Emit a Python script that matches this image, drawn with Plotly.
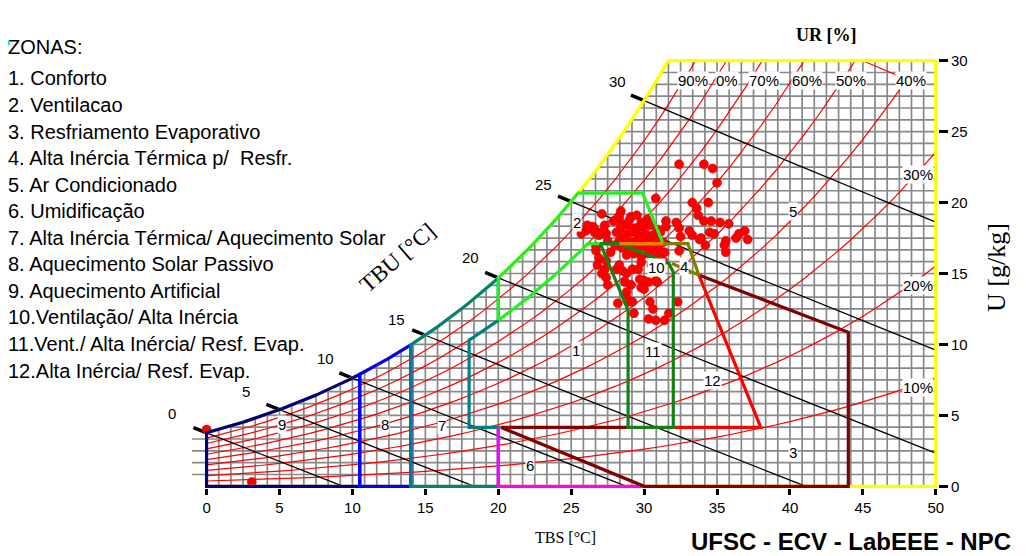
import numpy as np
import plotly.graph_objects as go

# ---------------- data ----------------
x_ticks = [0, 5, 10, 15, 20, 25, 30, 35, 40, 45, 50]
y_ticks = [0, 5, 10, 15, 20, 25, 30]
rh_levels = [10, 20, 30, 40, 50, 60, 70, 80, 90]
wb_levels = [0, 5, 10, 15, 20, 25, 30]
wb_labels = ["0", "5", "10", "15", "20", "25", "30"]
rh_top_labels = ["90%", "0%", "70%", "60%", "50%", "40%"]
rh_side_labels = ["30%", "20%", "10%"]
grid_step = 5.0 / 6.0

zone_title = "ZONAS:"
zone_names = [
    "1. Conforto",
    "2. Ventilacao",
    "3. Resfriamento Evaporativo",
    "4. Alta Inércia Térmica p/  Resfr.",
    "5. Ar Condicionado",
    "6. Umidificação",
    "7. Alta Inércia Térmica/ Aquecimento Solar",
    "8. Aquecimento Solar Passivo",
    "9. Aquecimento Artificial",
    "10.Ventilação/ Alta Inércia",
    "11.Vent./ Alta Inércia/ Resf. Evap.",
    "12.Alta Inércia/ Resf. Evap.",
]
zone_numbers = ["1", "2", "3", "4", "5", "6", "7", "8", "9", "10", "11", "12"]

# zone limits (TBS in °C, U in g/kg)
T_zone9_max = 10.5
T_zone8_max = 14.0
T_zone7_max = 20.0
T_comfort_min = 18.0
W_comfort_min = 4.15
RH_comfort_max = 0.80
W_upper = 17.1
zone2_T = [31.3, 29.9]
zone2_W = [17.1, 20.67]
zone10_T = [27.0, 28.3, 31.7, 32.0, 32.0, 28.9, 28.9, 27.0]
zone10_W = [17.1, 17.1, 15.7, 15.1, 4.15, 4.15, 12.4, 17.1]
orange_T = [28.3, 31.3]
orange_W = [17.1, 17.1]
zone4_T = [31.3, 33.0, 33.75, 31.9]
zone4_W = [17.1, 17.1, 14.9, 15.7]
zone12_T = [32.0, 38.0, 33.75]
zone12_W = [4.15, 4.15, 14.9]
zone3_T = [28.9, 20.2, 30.0, 44.0, 44.0, 33.75]
zone3_W = [4.15, 4.15, 0.0, 0.0, 10.85, 14.9]
zone6_T = [20.0, 20.0, 30.0]
zone6_W = [4.15, 0.0, 0.0]

# hourly climate points (TBS °C, U g/kg)
dots_T = [32.4, 34.1, 34.7, 35.0, 30.8, 33.3, 34.4, 33.6, 33.7, 34.1, 34.6, 35.2, 35.8, 36.9,
          37.1, 36.3, 35.6, 34.8, 34.5, 33.9, 33.3, 33.1, 32.4, 32.2, 31.5, 34.2, 35.5, 35.6,
          32.4, 33.8, 32.5, 36.5,
          27.1, 28.4, 29.1, 29.5, 27.9, 28.3, 29.8, 26.3, 26.0, 25.7, 26.7, 27.3, 27.4, 28.1,
          28.5, 26.5, 26.1, 26.6, 26.9, 27.2,
          28.4, 28.9, 29.4, 29.9, 30.4, 30.9, 28.6, 29.1, 29.6, 30.1, 30.6, 31.1, 28.3, 28.8,
          29.3, 29.8, 30.3, 30.8, 31.3, 28.5, 29.0, 29.5, 30.0, 30.5, 31.0, 31.4, 28.8, 29.3,
          29.8, 30.3, 30.9, 31.3, 31.5, 30.2, 29.0, 28.0, 27.7, 27.5,
          26.7, 26.9, 26.8, 27.1, 27.4, 27.5, 26.7, 27.4, 27.3, 28.1, 28.5, 28.3, 28.8, 29.2,
          28.7, 29.1, 29.7, 30.3, 30.9, 29.8, 30.0, 28.8, 28.8, 28.9, 29.2, 29.3, 30.4, 30.6,
          30.3, 30.8, 31.4, 31.7, 32.3, 28.2, 30.8, 30.0, 29.8, 30.5, 29.6,
          0.0, 3.1]
dots_W = [22.7, 22.7, 22.4, 21.4, 20.3, 20.0, 20.0, 19.6, 19.1, 18.7, 18.7, 18.6, 18.5, 18.0,
          17.4, 17.5, 17.3, 17.8, 17.9, 17.5, 17.7, 18.0, 18.2, 18.6, 18.7, 17.0, 17.0, 16.5,
          16.6, 17.4, 17.6, 17.8,
          19.2, 19.4, 19.0, 19.1, 18.7, 19.0, 18.6, 18.3, 18.0, 17.8, 18.0, 18.4, 17.8, 17.9,
          18.5, 18.3, 18.4, 17.9, 17.7, 18.0,
          18.3, 18.4, 18.2, 18.3, 18.4, 18.1, 17.8, 17.9, 17.7, 17.8, 17.7, 17.9, 17.3, 17.4,
          17.2, 17.4, 17.2, 17.3, 17.2, 16.8, 16.9, 16.7, 16.9, 16.7, 16.8, 16.5, 16.3, 16.4,
          16.2, 16.4, 16.2, 15.9, 18.3, 18.8, 18.8, 17.0, 16.5, 17.3,
          16.6, 16.1, 15.6, 15.0, 14.7, 14.2, 16.9, 15.9, 15.3, 15.3, 15.2, 15.6, 15.0, 15.3,
          14.4, 14.2, 14.6, 14.4, 14.4, 14.0, 13.9, 13.7, 13.3, 13.0, 13.0, 12.2, 13.0, 12.5,
          11.8, 11.7, 11.7, 12.2, 13.0, 12.9, 14.5, 14.5, 15.8, 15.6, 15.3,
          4.0, 0.3]

# ---------------- psychrometrics ----------------
P_ATM = 101.325


def psat(T):
    T = np.asarray(T, dtype=float)
    return 0.61078 * np.exp(17.27 * T / (T + 237.3))


def w_rh(T, rh):
    pv = psat(T) * rh
    return 622.0 * pv / (P_ATM - pv)


def w_sat(T):
    return w_rh(T, 1.0)


def w_wb(T, twb):
    ws = w_sat(twb) / 1000.0
    T = np.asarray(T, dtype=float)
    return 1000.0 * ((2501 - 2.326 * twb) * ws - 1.006 * (T - twb)) / (2501 + 1.86 * T - 4.186 * twb)


T_dense = np.linspace(-5, 45, 5001)
W_dense = w_sat(T_dense)


def t_sat(W):
    return np.interp(W, W_dense, T_dense)


def sat_seg(t0, t1, n=60):
    t = np.linspace(t0, t1, n)
    return list(t), list(w_sat(t))


def rh_seg(t0, t1, rh, n=40):
    t = np.linspace(t0, t1, n)
    return list(t), list(w_rh(t, rh))


T_top = float(t_sat(30.0))

fig = go.Figure()

# ---------------- grid (only under the saturation curve) ----------------
gx, gy = [], []
for k in range(1, 60):
    x = k * grid_step
    gx += [x, x, None]
    gy += [0, min(float(w_sat(x)), 30.0), None]
for j in range(1, 36):
    y = j * grid_step
    gx += [float(t_sat(y)), 50, None]
    gy += [y, y, None]
fig.add_trace(go.Scatter(x=gx, y=gy, mode="lines", line=dict(color="#888888", width=1.7),
                         hoverinfo="skip", showlegend=False))

# ---------------- relative humidity curves ----------------
for rh in rh_levels:
    t = np.arange(0, 51, 1.0)
    w = w_rh(t, rh / 100.0)
    keep = w <= 30
    tt, ww = list(t[keep]), list(w[keep])
    if not keep.all():
        tpos = T_dense[T_dense >= 0]
        tc = float(np.interp(30.0, w_rh(tpos, rh / 100.0), tpos))
        tt.append(tc)
        ww.append(30.0)
    fig.add_trace(go.Scatter(x=tt, y=ww, mode="lines", line=dict(color="#ff0000", width=1.2),
                             hoverinfo="skip", showlegend=False))

# ---------------- wet bulb lines ----------------
for twb in wb_levels:
    t = np.linspace(twb, 50, 400)
    w = w_wb(t, twb)
    keep = w >= 0
    tt, ww = list(t[keep]), list(w[keep])
    if not keep.all():
        tz = float(np.interp(0.0, w[::-1], t[::-1]))
        tt.append(tz)
        ww.append(0.0)
    fig.add_trace(go.Scatter(x=tt, y=ww, mode="lines", line=dict(color="#000000", width=1.3),
                             hoverinfo="skip", showlegend=False))
    te = np.array([twb - 0.9, twb])
    fig.add_trace(go.Scatter(x=list(te), y=list(w_wb(te, twb)), mode="lines",
                             line=dict(color="#000000", width=3.5),
                             hoverinfo="skip", showlegend=False))

# ---------------- climate points ----------------
fig.add_trace(go.Scatter(x=dots_T, y=dots_W, mode="markers",
                         marker=dict(size=9, color="#ff0000", line=dict(color="#d40000", width=0.6)),
                         hoverinfo="skip", showlegend=False))


def outline(xs, ys, color, width=3.2):
    fig.add_trace(go.Scatter(x=xs, y=ys, mode="lines", line=dict(color=color, width=width),
                             hoverinfo="skip", showlegend=False))


# chart frame (yellow)
sx, sy = sat_seg(0, T_top)
outline(sx + [50, 50, 0], sy + [30, 0, 0], "#ffff00")
# zone 9 (navy)
sx, sy = sat_seg(0, T_zone9_max)
outline([T_zone9_max, 0] + sx + [T_zone9_max], [0, 0] + sy + [0], "#000080")
# zone 8 (blue)
sx, sy = sat_seg(T_zone9_max, T_zone8_max)
outline([T_zone8_max, T_zone9_max] + sx + [T_zone8_max], [0, 0] + sy + [0], "#0000ff")
# zone 7 (teal)
sx, sy = sat_seg(T_zone8_max, T_zone7_max)
rx, ry = rh_seg(T_zone7_max, T_comfort_min, RH_comfort_max)
outline([T_zone7_max, T_zone8_max] + sx + rx + [T_comfort_min, T_zone7_max, T_zone7_max],
        [0, 0] + sy + ry + [W_comfort_min, W_comfort_min, 0], "#008080")
# zone 6 (magenta)
outline(zone6_T, zone6_W, "#ff00ff")
# zone 2 (green)
t80 = float(np.interp(W_upper, w_rh(T_dense, RH_comfort_max), T_dense))
t_corner = float(t_sat(zone2_W[1]))
rx, ry = rh_seg(T_zone7_max, t80, RH_comfort_max)
sx, sy = sat_seg(t_corner, T_zone7_max)
outline(rx + zone2_T + [t_corner] + sx + [T_zone7_max],
        ry + zone2_W + [zone2_W[1]] + sy + [float(w_rh(T_zone7_max, RH_comfort_max))], "#22f022")
# zone 3 (maroon)
outline(zone3_T, zone3_W, "#800000")
# zone 12 (red)
outline(zone12_T, zone12_W, "#ff0000")
# zones 10 / 11 (dark green)
outline(zone10_T, zone10_W, "#158015")
# upper edge (orange)
outline(orange_T, orange_W, "#f08000")
# zone 4 (olive)
outline(zone4_T, zone4_W, "#808000")

# ---------------- layout ----------------
# the page body adds an 8 px margin, so the figure is laid out 8 px up/left
OFF = 8
W_FIG, H_FIG = 1018, 548
L, T = 184, 51
PW, PH = 746, 429
R = W_FIG - L - PW
B = H_FIG - T - PH


def P(px, py):
    """window pixel position in the reference -> paper coordinates"""
    return (px - OFF - L) / PW, (H_FIG - B - (py - OFF)) / PH


ann = []


def text(px, py, s, size=15, family="Liberation Sans", color="#000", bg=None, xanchor="center",
         angle=0, bold=False):
    xp, yp = P(px, py)
    d = dict(x=xp, y=yp, xref="paper", yref="paper", text=("<b>%s</b>" % s) if bold else s,
             showarrow=False, xanchor=xanchor, yanchor="middle", textangle=angle,
             font=dict(family=family, size=size, color=color))
    if bg:
        d.update(bgcolor=bg, borderpad=0)
    ann.append(d)


# legend block
text(6, 46.5, zone_title, size=20, xanchor="left")
for i, name in enumerate(zone_names):
    text(6, 78.5 + i * 26.55, name, size=20, xanchor="left")

# zone numbers
zone_num_px = [(576, 350), (577, 222), (793, 452), (684, 266), (793, 211), (530, 465),
               (442, 425), (385, 424), (282, 424), (656, 267), (653, 351), (712, 380)]
for s, (px, py) in zip(zone_numbers, zone_num_px):
    text(px, py, s, size=15, bg="#ffffff")

# RH labels
for s, px in zip(rh_top_labels, [693, 727, 764, 807, 851, 911]):
    text(px, 80, s, size=15, bg="#ffffff")
for s, py in zip(rh_side_labels, [175, 285, 387]):
    text(934, py, s, size=15, bg="#ffffff", xanchor="right")

# wet bulb labels
for s, (px, py) in zip(wb_labels, [(172, 413), (246, 391), (325, 358), (396, 319),
                                   (470, 258), (543, 184), (617, 81)]):
    text(px, py, s, size=15)

# titles
serif = "Liberation Serif"
text(565, 537, "TBS [°C]", size=16, family=serif)
text(826, 35, "UR [%]", size=18, family=serif, bold=True)
text(398, 258, "TBU [°C]", size=23, family=serif, angle=-41)
text(996, 268, "U [g/kg]", size=26, family=serif, angle=-90)
text(851, 541, "UFSC - ECV - LabEEE - NPC", size=24, bold=True)

fig.update_layout(
    width=W_FIG, height=H_FIG,
    margin=dict(l=L, r=R, t=T, b=B, autoexpand=False),
    paper_bgcolor="#ffffff", plot_bgcolor="#ffffff",
    showlegend=False,
    annotations=ann,
    shapes=[dict(type="circle", xref="paper", yref="paper",
                 x0=P(4, 40)[0], y0=P(4, 40)[1], x1=P(10, 46)[0], y1=P(10, 46)[1],
                 fillcolor="#00e5ff", line=dict(width=0))],
    xaxis=dict(range=[-1, 50.15], tickvals=x_ticks, ticktext=[str(v) for v in x_ticks],
               showgrid=False, zeroline=False, showline=False, ticks="outside", ticklen=6,
               tickwidth=3, tickcolor="#000", tickfont=dict(family="Liberation Sans", size=15, color="#000")),
    yaxis=dict(range=[-0.12, 30.12], side="right", tickvals=y_ticks, ticktext=[str(v) for v in y_ticks],
               showgrid=False, zeroline=False, showline=False, ticks="outside", ticklen=9,
               tickwidth=3, tickcolor="#000", tickfont=dict(family="Liberation Sans", size=15, color="#000")),
)

fig.write_html("out.html")
